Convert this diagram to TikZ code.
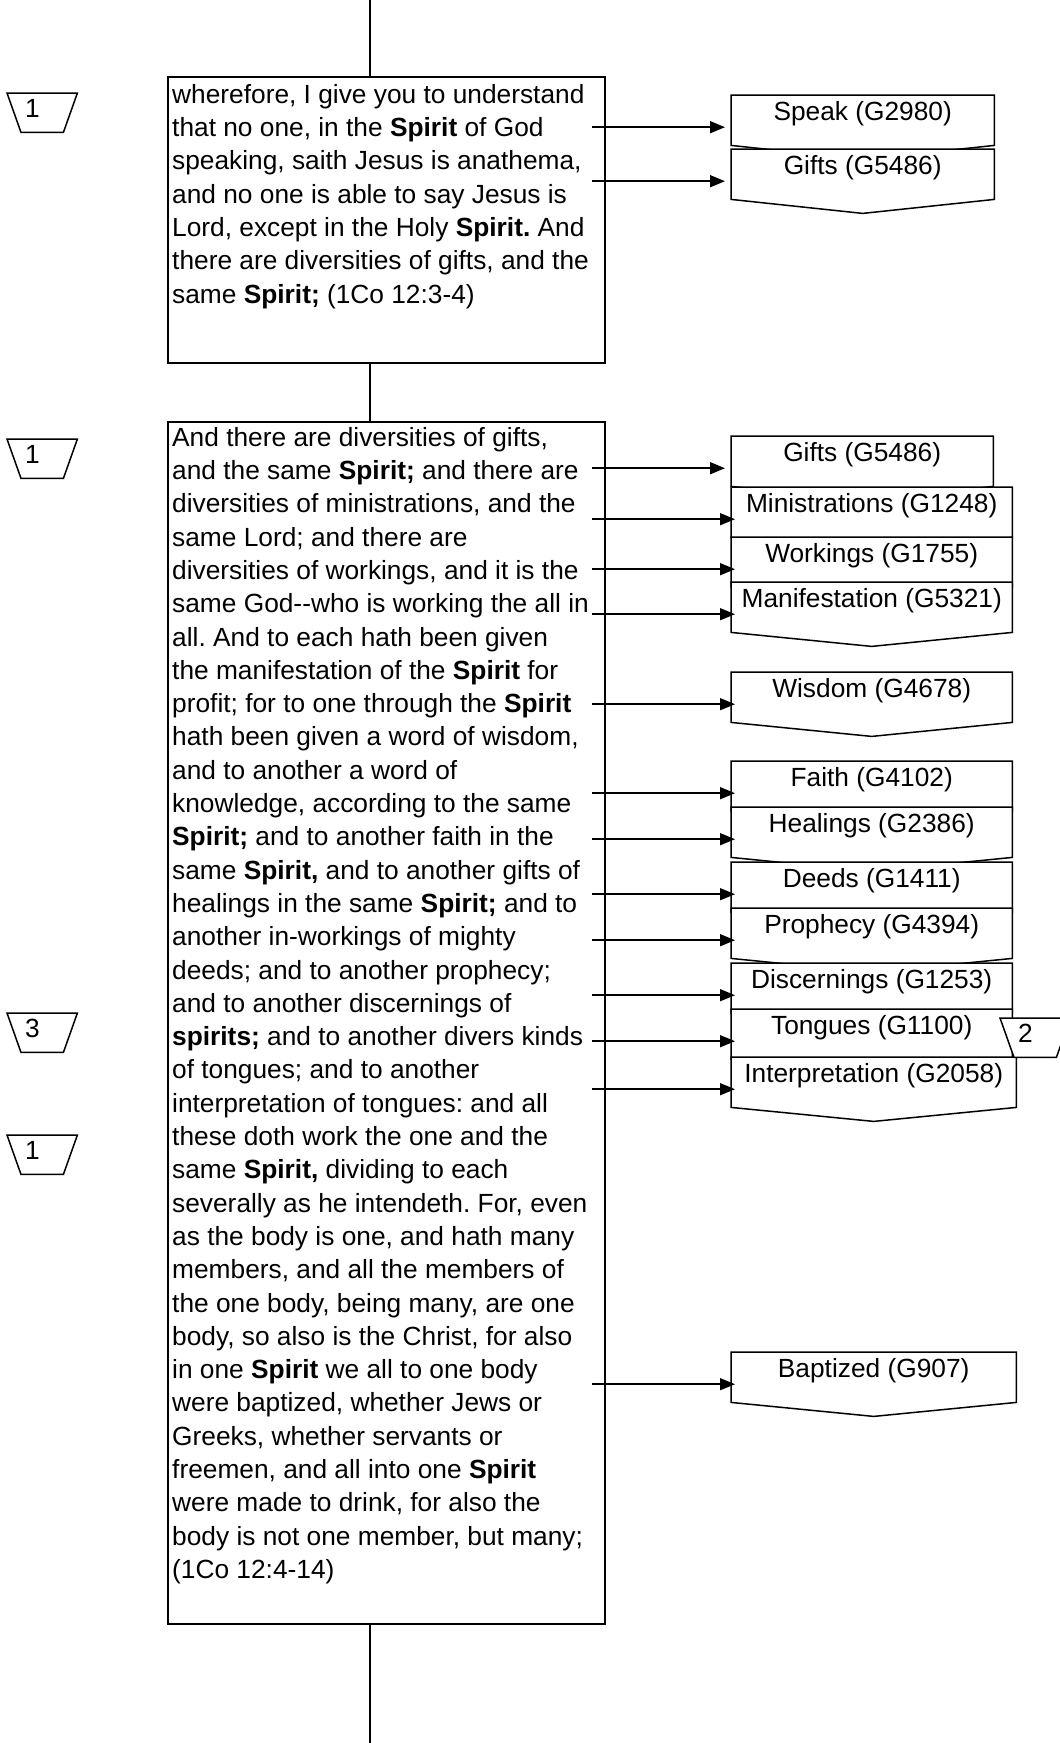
\documentclass[tikz,border=0pt]{standalone}
\usepackage{fontspec}
\setmainfont{Liberation Sans}
\usetikzlibrary{arrows.meta, positioning, backgrounds}
\frenchspacing

\begin{document}
\begin{tikzpicture}[
  x=1pt, y=-1pt,
  every node/.style={font=\fontsize{26.3}{33.3}\selectfont},
  versebox/.style={draw, line width=1.5pt, anchor=north west, inner sep=0pt},
  verse/.style={anchor=north west, inner sep=0pt, align=left},
  word/.style={anchor=north west, inner sep=0pt, text height=25pt, text depth=39pt},
  wordline/.style={draw, fill=white, line width=1.5pt, line join=miter},
  tag/.style={anchor=north west, inner xsep=18pt, inner ysep=0pt, text width=34pt,
              align=left, text height=24pt, text depth=15pt},
  arr/.style={-{Triangle[length=15pt, width=12pt]}, line width=1.5pt},
  spine/.style={line width=1.5pt}
]
  \useasboundingbox (0,0) rectangle (1060,1743);

  % Verse boxes
  \node[versebox, minimum width=437pt, minimum height=286pt]  (v1) at (167,76)  {};
  \node[versebox, minimum width=437pt, minimum height=1202pt] (v2) at (167,421) {};

  \node[verse] (t1) at ([shift={(5,3.7)}]v1.north west) {\strut wherefore, I give you to understand\\
    that no one, in the \textbf{Spirit} of God\\
    speaking, saith Jesus is anathema,\\
    and no one is able to say Jesus is\\
    Lord, except in the Holy \textbf{Spirit.} And\\
    there are diversities of gifts, and the\\
    same \textbf{Spirit;} (1Co 12:3-4)};

  \node[verse] (t2) at ([shift={(5,1.7)}]v2.north west) {\strut And there are diversities of gifts,\\
    and the same \textbf{Spirit;} and there are\\
    diversities of ministrations, and the\\
    same Lord; and there are\\
    diversities of workings, and it is the\\
    same God-{}-who is working the all in\\
    all. And to each hath been given\\
    the manifestation of the \textbf{Spirit} for\\
    profit; for to one through the \textbf{Spirit}\\
    hath been given a word of wisdom,\\
    and to another a word of\\
    knowledge, according to the same\\
    \textbf{Spirit;} and to another faith in the\\
    same \textbf{Spirit,} and to another gifts of\\
    healings in the same \textbf{Spirit;} and to\\
    another in-workings of mighty\\
    deeds; and to another prophecy;\\
    and to another discernings of\\
    \textbf{spirits;} and to another divers kinds\\
    of tongues; and to another\\
    interpretation of tongues: and all\\
    these doth work the one and the\\
    same \textbf{Spirit,} dividing to each\\
    severally as he intendeth. For, even\\
    as the body is one, and hath many\\
    members, and all the members of\\
    the one body, being many, are one\\
    body, so also is the Christ, for also\\
    in one \textbf{Spirit} we all to one body\\
    were baptized, whether Jews or\\
    Greeks, whether servants or\\
    freemen, and all into one \textbf{Spirit}\\
    were made to drink, for also the\\
    body is not one member, but many;\\
    (1Co 12:4-14)};

  % Spine
  \coordinate (top) at (370,0);
  \coordinate (bot) at (370,1743);
  \draw[spine] (top) -- (top |- v1.north);
  \draw[spine] (top |- v1.south) -- (top |- v2.north);
  \draw[spine] (top |- v2.south) -- (bot);

  % Word boxes
  \node[word, minimum width=263pt] (speak)  at (731,95)   {Speak (G2980)};
  \node[word, minimum width=263pt] (gifta)  at (731,149)  {Gifts (G5486)};
  \node[word, minimum width=262pt] (giftb)  at (731,436)  {Gifts (G5486)};
  \node[word, minimum width=281pt] (minis)  at (731,487)  {Ministrations (G1248)};
  \node[word, minimum width=281pt] (works)  at (731,537)  {Workings (G1755)};
  \node[word, minimum width=281pt] (manif)  at (731,582)  {Manifestation (G5321)};
  \node[word, minimum width=281pt] (wisdom) at (731,672)  {Wisdom (G4678)};
  \node[word, minimum width=281pt] (faith)  at (731,761)  {Faith (G4102)};
  \node[word, minimum width=281pt] (heal)   at (731,807)  {Healings (G2386)};
  \node[word, minimum width=281pt] (deeds)  at (731,862)  {Deeds (G1411)};
  \node[word, minimum width=281pt] (proph)  at (731,908)  {Prophecy (G4394)};
  \node[word, minimum width=281pt] (disc)   at (731,963)  {Discernings (G1253)};
  \node[word, minimum width=281pt] (tongue) at (731,1009) {Tongues (G1100)};
  \node[word, minimum width=285pt] (interp) at (731,1057) {Interpretation (G2058)};
  \node[word, minimum width=285pt] (bapt)   at (731,1352) {Baptized (G907)};

  % Tags
  \node[tag] (tag1) at (7,93)     {1};
  \node[tag] (tag2) at (7,439)    {1};
  \node[tag] (tag3) at (7,1013)   {3};
  \node[tag] (tag4) at (7,1135)   {1};
  \node[tag] (tag5) at (1000,1018) {2};

  % Outlines behind the texts
  \begin{scope}[on background layer]
    \foreach \n in {speak, gifta, giftb, minis, works, manif, wisdom, faith,
                    heal, deeds, proph, disc, tongue, interp, bapt}
      \draw[wordline] (\n.north west) -- (\n.north east) -- ([yshift=14pt]\n.south east)
        -- (\n.south) -- ([yshift=14pt]\n.south west) -- cycle;
    \foreach \n in {tag1, tag2, tag3, tag4, tag5}
      \draw[wordline] (\n.north west) -- (\n.north east) -- ([xshift=-14pt]\n.south east)
        -- ([xshift=14pt]\n.south west) -- cycle;
  \end{scope}

  % Arrows from verses to words
  \coordinate (tap) at (592,0);
  \draw[arr] (tap |- speak.west) -- ([xshift=-6pt]speak.west);
  \draw[arr] (tap |- gifta.west) -- ([xshift=-6pt]gifta.west);
  \draw[arr] (tap |- giftb.west) -- ([xshift=-6pt]giftb.west);
  \draw[arr] (tap |- minis.west) -- ([xshift=4pt]minis.west);
  \draw[arr] (tap |- works.west) -- ([xshift=4pt]works.west);
  \draw[arr] (tap |- manif.west) -- ([xshift=4pt]manif.west);
  \draw[arr] (tap |- wisdom.west) -- ([xshift=4pt]wisdom.west);
  \draw[arr] (tap |- faith.west) -- ([xshift=4pt]faith.west);
  \draw[arr] (tap |- heal.west) -- ([xshift=4pt]heal.west);
  \draw[arr] (tap |- deeds.west) -- ([xshift=4pt]deeds.west);
  \draw[arr] (tap |- proph.west) -- ([xshift=4pt]proph.west);
  \draw[arr] (tap |- disc.west) -- ([xshift=4pt]disc.west);
  \draw[arr] (tap |- tongue.west) -- ([xshift=4pt]tongue.west);
  \draw[arr] (tap |- interp.west) -- ([xshift=4pt]interp.west);
  \draw[arr] (tap |- bapt.west) -- ([xshift=4pt]bapt.west);
\end{tikzpicture}
\end{document}
